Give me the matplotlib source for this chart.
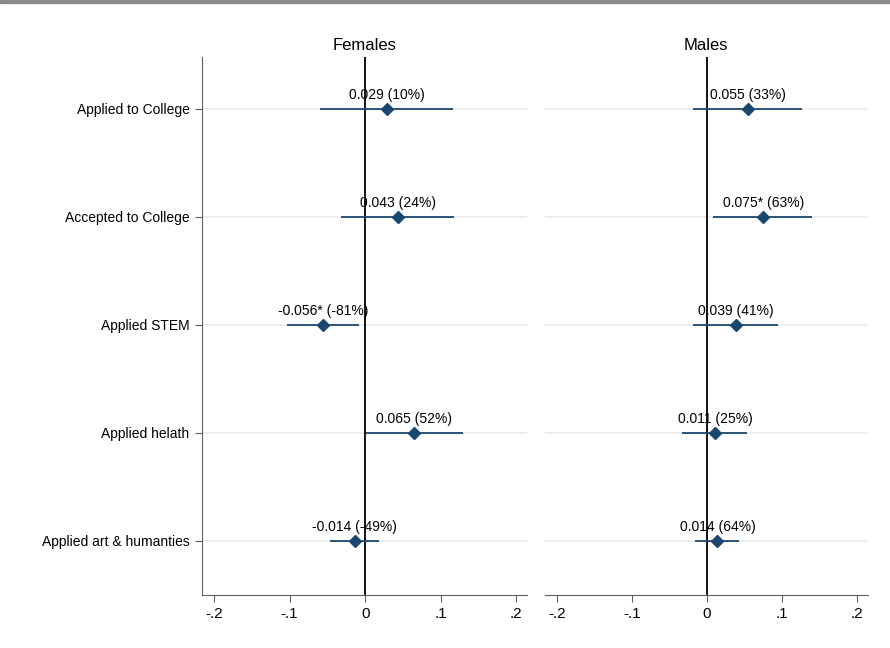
import matplotlib
matplotlib.use('Agg')
import matplotlib.pyplot as plt
from matplotlib.patches import Rectangle

plt.rcParams['font.family'] = ['Liberation Sans', 'DejaVu Sans']

# outcomes, top to bottom
outcomes = ['Applied to College', 'Accepted to College', 'Applied STEM',
            'Applied helath', 'Applied art & humanties']

# females
f_coef = [0.029, 0.043, -0.056, 0.065, -0.014]
f_lo = [-0.060, -0.032, -0.103, 0.001, -0.046]
f_hi = [0.116, 0.118, -0.008, 0.129, 0.018]
f_lab = ['0.029 (10%)', '0.043 (24%)', '-0.056* (-81%)', '0.065 (52%)', '-0.014 (-49%)']

# males
m_coef = [0.055, 0.075, 0.039, 0.011, 0.014]
m_lo = [-0.019, 0.008, -0.019, -0.033, -0.016]
m_hi = [0.127, 0.140, 0.094, 0.053, 0.042]
m_lab = ['0.055 (33%)', '0.075* (63%)', '0.039 (41%)', '0.011 (25%)', '0.014 (64%)']

xticks = [-0.2, -0.1, 0, 0.1, 0.2]
xticklabels = ['-.2', '-.1', '0', '.1', '.2']

navy = '#1a476f'

fig = plt.figure(figsize=(8.9, 6.48), dpi=100)
fig.patches.append(Rectangle((0, 0.996), 1, 0.004, transform=fig.transFigure,
                             color='#8a8a8a', zorder=10))

ax1 = fig.add_axes([0.227, 0.082, 0.365, 0.830])
ax2 = fig.add_axes([0.612, 0.082, 0.363, 0.830])

def panel(ax, coef, lo, hi, lab, title, show_y):
    y = list(range(1, len(coef) + 1))
    for yy in y:
        ax.axhline(yy, color='#e8e8e8', lw=1.1, zorder=0)
    ax.axvline(0, color='black', lw=1.3, zorder=1)
    ax.hlines(y, lo, hi, color=navy, lw=1.3, zorder=2)
    ax.plot(coef, y, 'D', color=navy, markersize=6.5, zorder=3)
    for c, yy, t in zip(coef, y, lab):
        ax.annotate(t, (c, yy), xytext=(0, 5), textcoords='offset points',
                    ha='center', va='bottom', fontsize=10, zorder=4)
    ax.set_xlim(-0.216, 0.214)
    ax.set_ylim(5.5, 0.52)
    ax.set_xticks(xticks)
    ax.set_xticklabels(xticklabels, fontsize=11)
    ax.set_title(title, fontsize=12, pad=5)
    for s in ['top', 'right']:
        ax.spines[s].set_visible(False)
    ax.spines['bottom'].set_color('#606060')
    ax.tick_params(axis='x', length=5, color='#606060', pad=4)
    if show_y:
        ax.set_yticks(y)
        ax.set_yticklabels(outcomes, fontsize=10)
        ax.spines['left'].set_color('#606060')
        ax.tick_params(axis='y', length=5, color='#606060', pad=4)
    else:
        ax.spines['left'].set_visible(False)
        ax.set_yticks([])

panel(ax1, f_coef, f_lo, f_hi, f_lab, 'Females', True)
panel(ax2, m_coef, m_lo, m_hi, m_lab, 'Males', False)

fig.savefig('out.png', dpi=100)
